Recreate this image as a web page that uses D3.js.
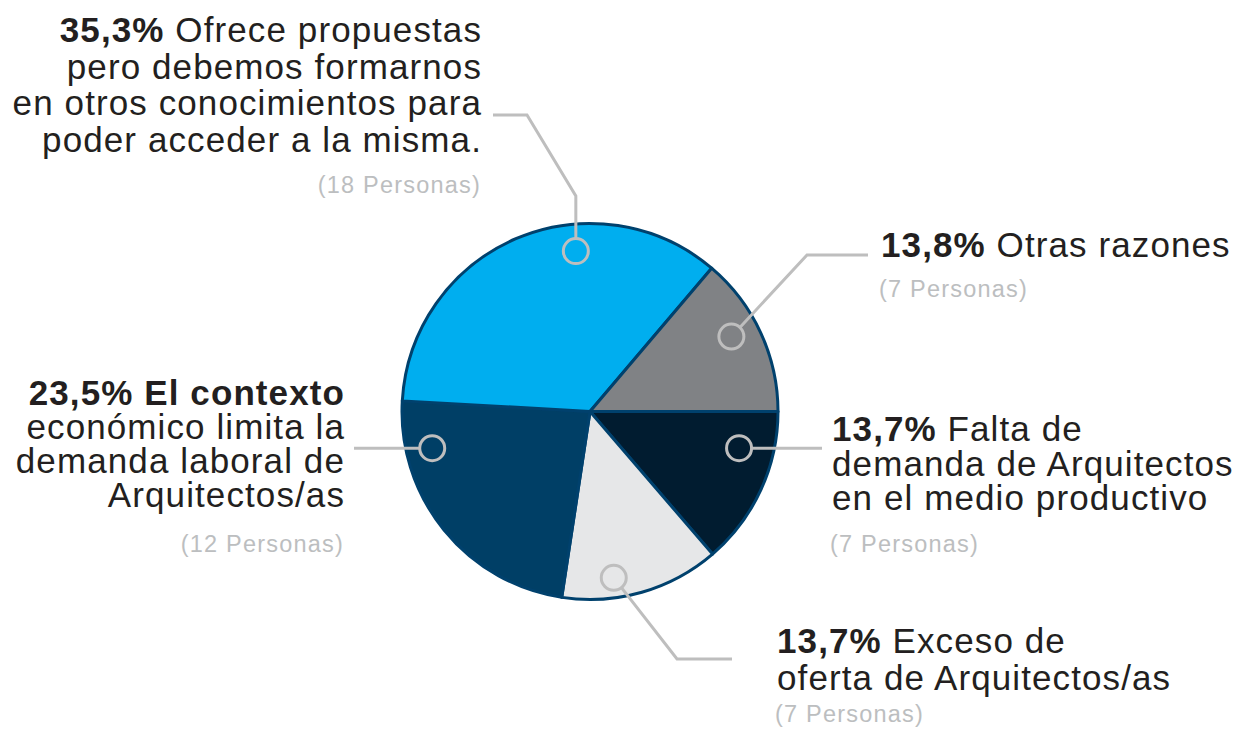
<!DOCTYPE html>
<html><head><meta charset="utf-8">
<script src="https://cdn.jsdelivr.net/npm/d3@7"></script>
<style>html,body{margin:0;padding:0;background:#fff}svg{display:block}</style>
</head><body>
<svg id="chart" width="1247" height="733"></svg>
<script>
// ---- data ----
const categories = [
  "Falta de demanda de Arquitectos en el medio productivo",
  "Exceso de oferta de Arquitectos/as",
  "El contexto económico limita la demanda laboral de Arquitectos/as",
  "Ofrece propuestas pero debemos formarnos en otros conocimientos para poder acceder a la misma.",
  "Otras razones"
];
const percentages = [13.7, 13.7, 23.5, 35.3, 13.8];
const persons = [7, 7, 12, 18, 7];
const percentLabels = ["13,7%", "13,7%", "23,5%", "35,3%", "13,8%"];
const labelLines = [
  ["Falta de", "demanda de Arquitectos", "en el medio productivo"],
  ["Exceso de", "oferta de Arquitectos/as"],
  ["El contexto", "económico limita la", "demanda laboral de", "Arquitectos/as"],
  ["Ofrece propuestas", "pero debemos formarnos", "en otros conocimientos para", "poder acceder a la misma."],
  ["Otras razones"]
];
const boldFirstLine = [false, false, true, false, false];
const colors = ["#011C30", "#E6E7E8", "#003F66", "#00AEEF", "#808285"];

// ---- layout ----
const W = 1247, H = 733;
const cx = 590, cy = 411.5, R = 188;
const layout = [
  {x: 832, y: 441, lh: 34.5, anchor: "start", py: 552, mf: 0.28, mr: 153.5,
   leader: m => [[822, m.y]]},
  {x: 777, y: 653, lh: 36.5, anchor: "start", py: 722, mf: 0.66, mr: 168,
   leader: m => [[677, 659], [732, 659]]},
  {x: 345, y: 405, lh: 34, anchor: "end", py: 552, mf: 0.807, mr: 162,
   leader: m => [[354, m.y]]},
  {x: 482, y: 42, lh: 36.7, anchor: "end", py: 193, mf: 0.643, mr: 161,
   leader: m => [[m.x, 196], [527, 115], [493, 115]]},
  {x: 881, y: 257, lh: 35, anchor: "start", py: 297, mf: 0.438, mr: 160,
   leader: m => [[807, 255], [868, 255]]}
];
const markerR = 12.5;
const textColor = "#231F20", subColor = "#BCBEC0", leaderColor = "#BEBEBE";
const font = "'Liberation Sans', Arial, Helvetica, sans-serif";

const svg = d3.select("#chart");

const pie = d3.pie().sort(null).value(d => d)
  .startAngle(Math.PI / 2).endAngle(Math.PI / 2 + 2 * Math.PI);
const arcs = pie(percentages);
const arc = d3.arc().innerRadius(0).outerRadius(R);

const g = svg.append("g").attr("transform", `translate(${cx},${cy})`);
g.selectAll("path.slice").data(arcs).join("path")
  .attr("class", "slice")
  .attr("d", arc)
  .attr("fill", (d, i) => colors[i])
  .attr("stroke", "#00416D")
  .attr("stroke-width", 3)
  .attr("stroke-linejoin", "round");

// markers
const markers = arcs.map((d, i) => {
  const L = layout[i];
  const a = d.startAngle + L.mf * (d.endAngle - d.startAngle);
  const c = d3.arc().innerRadius(L.mr).outerRadius(L.mr).startAngle(a).endAngle(a).centroid();
  return {x: cx + c[0], y: cy + c[1]};
});

const lines = svg.append("g");
markers.forEach((m, i) => {
  const pts = layout[i].leader(m);
  const f = pts[0];
  const dx = f[0] - m.x, dy = f[1] - m.y, len = Math.hypot(dx, dy);
  const start = [m.x + dx / len * markerR, m.y + dy / len * markerR];
  lines.append("path")
    .attr("d", d3.line()([start, ...pts]))
    .attr("fill", "none")
    .attr("stroke", leaderColor)
    .attr("stroke-width", 3)
    .attr("stroke-linejoin", "miter");
  lines.append("circle")
    .attr("cx", m.x).attr("cy", m.y).attr("r", markerR)
    .attr("fill", "none")
    .attr("stroke", leaderColor)
    .attr("stroke-width", 3);
});

// labels
const labels = svg.append("g").attr("font-family", font);
categories.forEach((c, i) => {
  const L = layout[i];
  const t = labels.append("text")
    .attr("text-anchor", L.anchor)
    .attr("font-size", 35)
    .attr("letter-spacing", 1.1)
    .attr("fill", textColor);
  labelLines[i].forEach((ln, j) => {
    if (j === 0) {
      const ts = t.append("tspan").attr("x", L.x).attr("y", L.y);
      ts.append("tspan").attr("font-weight", "bold").text(percentLabels[i] + " ");
      ts.append("tspan").attr("font-weight", boldFirstLine[i] ? "bold" : "normal").text(ln);
    } else {
      t.append("tspan").attr("x", L.x).attr("y", L.y + j * L.lh).text(ln);
    }
  });
  labels.append("text")
    .attr("text-anchor", L.anchor)
    .attr("x", L.anchor === "end" ? L.x - 1 : L.x - 2)
    .attr("y", L.py)
    .attr("font-size", 23.5)
    .attr("letter-spacing", 1.2)
    .attr("fill", subColor)
    .text(`(${persons[i]} Personas)`);
});
</script>
</body></html>
